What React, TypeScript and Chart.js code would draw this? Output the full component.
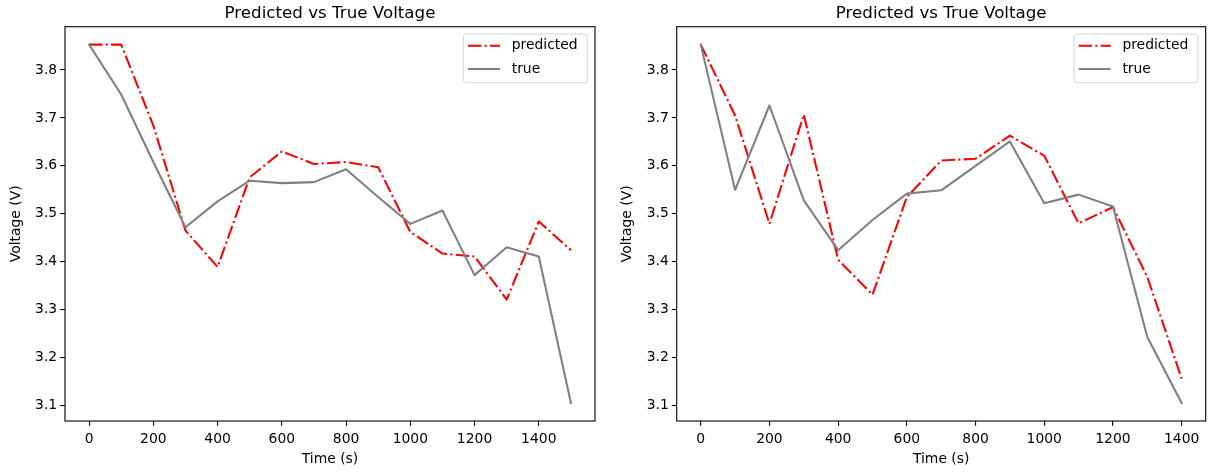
import React, { useEffect, useRef } from 'react';
import { Chart, registerables } from 'chart.js';

Chart.register(...registerables);

// ---- Data ----
const timesLeft = [0, 100, 200, 300, 400, 500, 600, 700, 800, 900, 1000, 1100, 1200, 1300, 1400, 1500];
const predictedLeft = [3.853, 3.853, 3.684, 3.465, 3.389, 3.576, 3.630, 3.604, 3.608, 3.597, 3.462, 3.417, 3.411, 3.321, 3.484, 3.424];
const trueLeft = [3.853, 3.749, 3.608, 3.472, 3.526, 3.569, 3.564, 3.566, 3.593, 3.535, 3.479, 3.507, 3.372, 3.430, 3.411, 3.105];

const timesRight = [0, 100, 200, 300, 400, 500, 600, 700, 800, 900, 1000, 1100, 1200, 1300, 1400];
const predictedRight = [3.853, 3.705, 3.479, 3.707, 3.404, 3.331, 3.535, 3.611, 3.615, 3.663, 3.621, 3.480, 3.514, 3.368, 3.156];
const trueRight = [3.853, 3.550, 3.726, 3.528, 3.424, 3.487, 3.542, 3.549, 3.600, 3.651, 3.522, 3.540, 3.515, 3.243, 3.105];

const xTickValues = [0, 200, 400, 600, 800, 1000, 1200, 1400];
const yTickValues = [3.1, 3.2, 3.3, 3.4, 3.5, 3.6, 3.7, 3.8];

const TITLE = 'Predicted vs True Voltage';
const X_LABEL = 'Time (s)';
const Y_LABEL = 'Voltage (V)';
const SERIES_NAMES = ['predicted', 'true'];
const SERIES_COLORS = ['#ff0000', '#808080'];

const FONT = '"DejaVu Sans", sans-serif';
const LW = 2.08;
const DASH_DOT = [13.3, 3.3, 2.08, 3.3];

function padRange(values: number[]) {
  const lo = Math.min(...values);
  const hi = Math.max(...values);
  const m = (hi - lo) * 0.05;
  return [lo - m, hi + m];
}

const overlayPlugin = {
  id: 'mplOverlay',
  afterDraw(chart: any) {
    const { ctx, chartArea: a } = chart;
    ctx.save();
    // frame
    ctx.strokeStyle = '#000';
    ctx.lineWidth = 1.1;
    ctx.setLineDash([]);
    ctx.strokeRect(a.left, a.top, a.right - a.left, a.bottom - a.top);
    const cx = (a.left + a.right) / 2;
    // title
    ctx.fillStyle = '#000';
    ctx.font = `16.7px ${FONT}`;
    ctx.textAlign = 'center';
    ctx.textBaseline = 'alphabetic';
    ctx.fillText(TITLE, cx, a.top - 8.3);
    // x label
    ctx.font = `13.9px ${FONT}`;
    ctx.textBaseline = 'middle';
    ctx.fillText(X_LABEL, cx, 459);
    // y label
    ctx.save();
    ctx.translate(a.left - 49, (a.top + a.bottom) / 2);
    ctx.rotate(-Math.PI / 2);
    ctx.fillText(Y_LABEL, 0, 0);
    ctx.restore();
    // legend
    const bl = a.right - 131.7;
    const br = a.right - 7.7;
    const bt = a.top + 7.3;
    const bb = a.top + 56;
    const r = 3;
    ctx.beginPath();
    ctx.moveTo(bl + r, bt);
    ctx.lineTo(br - r, bt);
    ctx.quadraticCurveTo(br, bt, br, bt + r);
    ctx.lineTo(br, bb - r);
    ctx.quadraticCurveTo(br, bb, br - r, bb);
    ctx.lineTo(bl + r, bb);
    ctx.quadraticCurveTo(bl, bb, bl, bb - r);
    ctx.lineTo(bl, bt + r);
    ctx.quadraticCurveTo(bl, bt, bl + r, bt);
    ctx.closePath();
    ctx.fillStyle = 'rgba(255,255,255,0.8)';
    ctx.fill();
    ctx.strokeStyle = 'rgba(204,204,204,0.8)';
    ctx.lineWidth = 1;
    ctx.stroke();
    const rows = [a.top + 19, a.top + 42.3];
    SERIES_NAMES.forEach((name, i) => {
      const y = rows[i];
      ctx.beginPath();
      ctx.setLineDash(i === 0 ? DASH_DOT : []);
      ctx.strokeStyle = SERIES_COLORS[i];
      ctx.lineWidth = LW;
      ctx.moveTo(bl + 4.7, y);
      ctx.lineTo(bl + 36.7, y);
      ctx.stroke();
      ctx.setLineDash([]);
      ctx.fillStyle = '#000';
      ctx.textAlign = 'left';
      ctx.textBaseline = 'middle';
      ctx.font = `13.9px ${FONT}`;
      ctx.fillText(name, bl + 48.4, y);
    });
    ctx.restore();
  },
};

type PanelProps = {
  times: number[];
  predicted: number[];
  actual: number[];
  left: number;
  yAxisWidth: number;
  rightPad: number;
};

function Panel({ times, predicted, actual, left, yAxisWidth, rightPad }: PanelProps) {
  const ref = useRef<HTMLCanvasElement | null>(null);
  useEffect(() => {
    if (!ref.current) return;
    const [xmin, xmax] = padRange(times);
    const [ymin, ymax] = padRange([...predicted, ...actual]);
    const chart = new Chart(ref.current, {
      type: 'line',
      data: {
        datasets: [
          {
            label: SERIES_NAMES[0],
            data: times.map((t, i) => ({ x: t, y: predicted[i] })),
            borderColor: SERIES_COLORS[0],
            borderWidth: LW,
            borderDash: DASH_DOT,
            borderCapStyle: 'butt',
            borderJoinStyle: 'round',
            pointRadius: 0,
            tension: 0,
            fill: false,
            order: 1,
          },
          {
            label: SERIES_NAMES[1],
            data: times.map((t, i) => ({ x: t, y: actual[i] })),
            borderColor: SERIES_COLORS[1],
            borderWidth: LW,
            borderCapStyle: 'square',
            borderJoinStyle: 'round',
            pointRadius: 0,
            tension: 0,
            fill: false,
            order: 0,
          },
        ],
      },
      options: {
        responsive: false,
        animation: false,
        devicePixelRatio: 1,
        layout: { padding: { top: 26.7, right: rightPad, bottom: 0, left: 0 } },
        plugins: { legend: { display: false }, tooltip: { enabled: false }, title: { display: false } },
        scales: {
          x: {
            type: 'linear',
            min: xmin,
            max: xmax,
            afterBuildTicks: (axis: any) => {
              axis.ticks = xTickValues.map((v) => ({ value: v }));
            },
            afterFit: (scale: any) => {
              scale.height = 51;
            },
            grid: { drawOnChartArea: false, drawTicks: true, tickLength: 4.86, color: '#000', lineWidth: 1.1 },
            border: { display: false },
            ticks: {
              autoSkip: false,
              maxRotation: 0,
              minRotation: 0,
              padding: 4.8,
              color: '#000',
              font: { family: FONT, size: 13.9 },
              callback: (v: any) => String(v),
            },
          },
          y: {
            type: 'linear',
            min: ymin,
            max: ymax,
            afterBuildTicks: (axis: any) => {
              axis.ticks = yTickValues.map((v) => ({ value: v }));
            },
            afterFit: (scale: any) => {
              scale.width = yAxisWidth;
            },
            grid: { drawOnChartArea: false, drawTicks: true, tickLength: 4.86, color: '#000', lineWidth: 1.1 },
            border: { display: false },
            ticks: {
              padding: 3,
              color: '#000',
              font: { family: FONT, size: 13.9 },
              callback: (v: any) => Number(v).toFixed(1),
            },
          },
        },
      },
      plugins: [overlayPlugin],
    } as any);
    return () => chart.destroy();
  }, []);
  return (
    <canvas
      ref={ref}
      width={610}
      height={472}
      style={{ position: 'absolute', left, top: 0, width: 610, height: 472 }}
    />
  );
}

export default function App() {
  return (
    <div style={{ position: 'fixed', left: 0, top: 0, width: 1220, height: 472, background: '#fff' }}>
      <Panel times={timesLeft} predicted={predictedLeft} actual={trueLeft} left={0} yAxisWidth={65} rightPad={15} />
      <Panel times={timesRight} predicted={predictedRight} actual={trueRight} left={610} yAxisWidth={66.7} rightPad={14.3} />
    </div>
  );
}
